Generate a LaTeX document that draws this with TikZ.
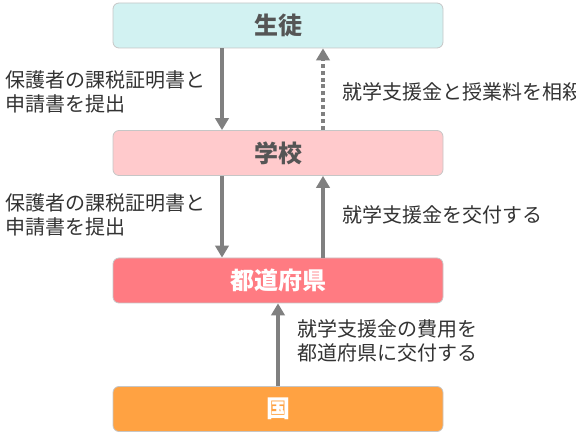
\documentclass[tikz,border=0pt]{standalone}
\usepackage{fontspec}
\setmainfont{Noto Sans CJK JP}
\usetikzlibrary{arrows.meta}
\definecolor{seitofill}{HTML}{D2F2F2}
\definecolor{gakkofill}{HTML}{FFCACC}
\definecolor{kenfill}{HTML}{FF7B82}
\definecolor{kunifill}{HTML}{FFA242}
\definecolor{arrowgray}{HTML}{808080}
\definecolor{textgray}{HTML}{333333}
\definecolor{boxtext}{HTML}{555555}
\begin{document}
\begin{tikzpicture}[
	x=0.75pt, y=-0.75pt,
	box/.style={rounded corners=4.5pt, draw=gray!45, line width=0.6pt, minimum width=247.5pt, minimum height=33.75pt, inner sep=0pt, font=\fontsize{18}{20}\selectfont\bfseries},
	note/.style={align=left, anchor=west, inner sep=0pt, text=textgray, font=\fontsize{15}{18}\selectfont},
	flow/.style={-{Triangle[length=9pt,width=10pt]}, line width=3pt, draw=arrowgray},
	offset/.style={flow, dash pattern=on 3pt off 2.2pt}
	]
	\useasboundingbox (0,0) rectangle (576,434);
	
	% Boxes
	\node[box, fill=seitofill, text=boxtext] (seito) at (278, 25.5) {生徒};
	\node[box, fill=gakkofill, text=boxtext] (gakko) at (278, 153) {学校};
	\node[box, fill=kenfill, text=white] (ken) at (278, 280.5) {都道府県};
	\node[box, fill=kunifill, text=white] (kuni) at (278, 409) {国};
	
	% Arrows
	\draw[flow] ([xshift=-42pt]seito.south) -- ([xshift=-42pt]gakko.north);
	\draw[offset] ([xshift=33.75pt]gakko.north) -- ([xshift=33.75pt]seito.south);
	\draw[flow] ([xshift=-42pt]gakko.south) -- ([xshift=-42pt]ken.north);
	\draw[flow] ([xshift=33.75pt]ken.north) -- ([xshift=33.75pt]gakko.south);
	\draw[flow] (kuni.north) -- (ken.south);
	
	% Labels
	\node[note] (teishutsu1) at (5, 92) {保護者の課税証明書と\\申請書を提出};
	\node[note] (sousai) at (342, 92) {就学支援金と授業料を相殺};
	\node[note] (teishutsu2) at (5, 215) {保護者の課税証明書と\\申請書を提出};
	\node[note] (koufu1) at (342, 215) {就学支援金を交付する};
	\node[note] (koufu2) at (297, 341) {就学支援金の費用を\\都道府県に交付する};
	
\end{tikzpicture}
\end{document}
